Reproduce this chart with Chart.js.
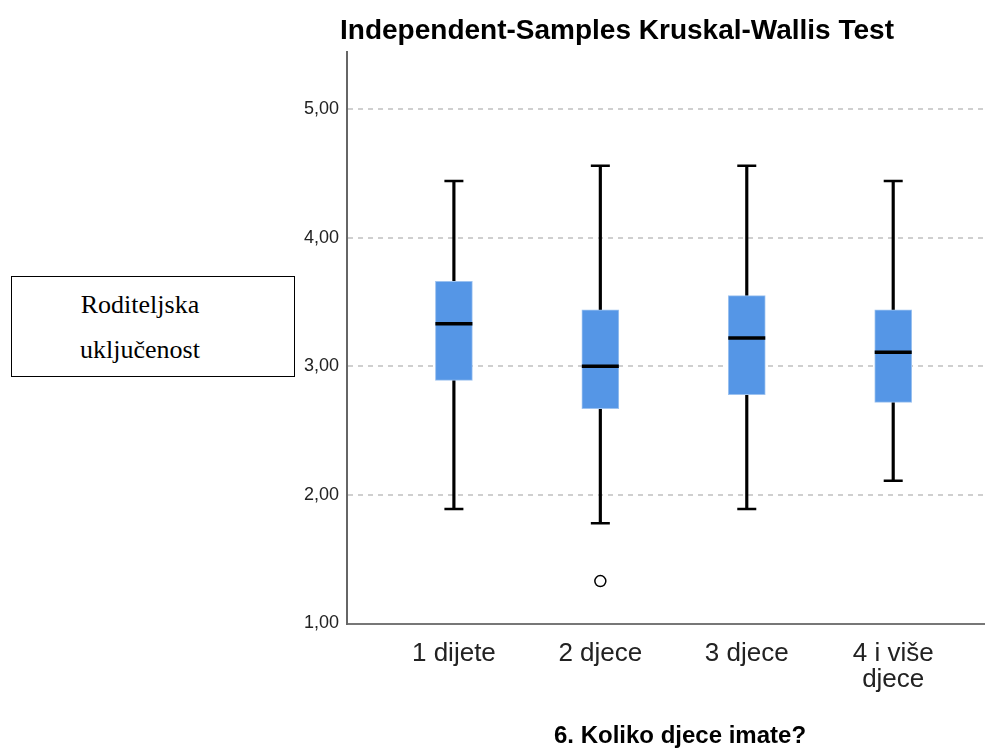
<!DOCTYPE html>
<html lang="hr">
<head>
<meta charset="utf-8">
<title>Kruskal-Wallis</title>
<script src="https://cdn.jsdelivr.net/npm/chart.js@4.4.1/dist/chart.umd.min.js"></script>
<style>
    body { margin: 0; background: #fff; }
    #okvir { position: relative; width: 987px; height: 749px; overflow: hidden; }
    #okvir canvas { position: absolute; left: 0; top: 0; }
    .naslov {
        position: absolute; white-space: nowrap; color: #000;
        font-family: "Liberation Sans", Arial, sans-serif; font-weight: bold; line-height: normal;
        transform: translateX(-50%);
    }
    #glavni { left: 617px; top: 14px; font-size: 28px; }
    #osX { left: 680px; top: 721px; font-size: 24px; }
    #oznakaY {
        position: absolute; left: 11px; top: 276px; width: 282px; height: 99px;
        border: 1px solid #000; background: #fff;
    }
    #oznakaY div {
        position: absolute; left: 67px; top: 5px; width: 122px; text-align: center;
        font-family: "Liberation Serif", "Times New Roman", serif; font-size: 26px; line-height: 45px;
        white-space: nowrap; color: #000;
    }
</style>
</head>
<body>
<div id="okvir">
    <canvas id="grafikon"></canvas>
    <div class="naslov" id="glavni">Independent-Samples Kruskal-Wallis Test</div>
    <div class="naslov" id="osX">6. Koliko djece imate?</div>
    <div id="oznakaY"><div>Roditeljska<br>uključenost</div></div>
</div>
<script>
// podaci očitani s grafa
const kategorije = ['1 dijete', '2 djece', '3 djece', '4 i više djece'];
const oznakeX = ['1 dijete', '2 djece', '3 djece', ['4 i više', 'djece']];
const minimum = [1.89, 1.78, 1.89, 2.11];
const q1 = [2.89, 2.67, 2.78, 2.72];
const medijan = [3.33, 3.00, 3.22, 3.11];
const q3 = [3.66, 3.44, 3.55, 3.44];
const maksimum = [4.44, 4.56, 4.56, 4.44];
const outlierGrupa = [2];
const outlierVrijednost = [1.33];

const pozicija = kategorije.map((k, i) => i + 1);

const brkovi = pozicija.map((x, i) => ({ x: x, y: [minimum[i], maksimum[i]] }));
const kutije = pozicija.map((x, i) => ({ x: x, y: [q1[i], q3[i]] }));
const crtice = pozicija.map((x, i) => ({ x: x, y: minimum[i] }))
    .concat(pozicija.map((x, i) => ({ x: x, y: maksimum[i] })));
const medijani = pozicija.map((x, i) => ({ x: x, y: medijan[i] }));
const outlieri = outlierGrupa.map((g, i) => ({ x: g, y: outlierVrijednost[i] }));

const ctx = document.getElementById('grafikon').getContext('2d');
const chart = new Chart(ctx, {
    type: 'bar',
    data: {
        datasets: [
            {
                // brkovi
                data: brkovi,
                backgroundColor: '#000',
                barThickness: 2.5,
                grouped: false,
                order: 4
            },
            {
                // kutije
                data: kutije,
                backgroundColor: '#5596e6',
                borderColor: '#9cc2f0',
                borderWidth: 1,
                borderSkipped: false,
                barThickness: 37,
                grouped: false,
                order: 3
            },
            {
                type: 'scatter',
                data: crtice,
                pointStyle: 'line',
                pointRadius: 9.5,
                pointBorderWidth: 2.5,
                pointBorderColor: '#000',
                borderColor: '#000',
                order: 2
            },
            {
                type: 'scatter',
                data: medijani,
                pointStyle: 'line',
                pointRadius: 18.5,
                pointBorderWidth: 3.5,
                pointBorderColor: '#000',
                borderColor: '#000',
                order: 1
            },
            {
                type: 'scatter',
                data: outlieri,
                pointStyle: 'circle',
                pointRadius: 5.5,
                pointBorderWidth: 1.5,
                pointBorderColor: '#000',
                pointBackgroundColor: '#fff',
                order: 1
            }
        ]
    },
    options: {
        responsive: true,
        maintainAspectRatio: false,
        animation: false,
        events: [],
        layout: { autoPadding: false, padding: { top: 52, right: 3, left: 0, bottom: 0 } },
        plugins: {
            legend: { display: false },
            tooltip: { enabled: false }
        },
        scales: {
            x: {
                type: 'linear',
                min: 0.27,
                max: 4.62,
                offset: false,
                afterBuildTicks: (scale) => {
                    scale.ticks = pozicija.map(v => ({ value: v }));
                },
                afterFit: (scale) => {
                    scale.height = 125.5;
                    scale.paddingLeft = 0;
                    scale.paddingRight = 0;
                },
                ticks: {
                    autoSkip: false,
                    maxRotation: 0,
                    padding: 17,
                    color: '#222',
                    font: { family: '"Liberation Sans", Arial, sans-serif', size: 26, lineHeight: 1.02 },
                    callback: (v) => oznakeX[v - 1]
                },
                grid: { display: false, drawTicks: false },
                border: { display: true, color: '#777', width: 2 }
            },
            y: {
                min: 1,
                max: 5.444,
                afterFit: (scale) => { scale.width = 347; },
                ticks: {
                    stepSize: 1,
                    includeBounds: false,
                    padding: 8,
                    color: '#222',
                    font: { family: '"Liberation Sans", Arial, sans-serif', size: 18 },
                    callback: (v) => v.toFixed(2).replace('.', ',')
                },
                grid: { color: '#cfcfcf', lineWidth: 2, drawTicks: false },
                border: { display: true, color: '#666', width: 2, dash: [5, 5] }
            }
        }
    }
});
</script>
</body>
</html>
